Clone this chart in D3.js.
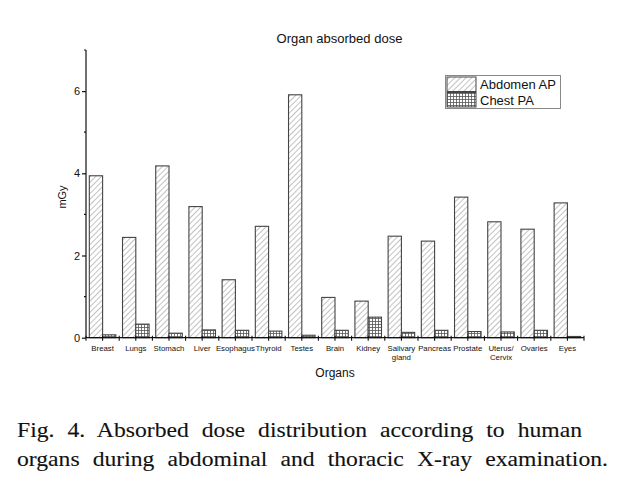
<!DOCTYPE html>
<html><head><meta charset="utf-8">
<script src="https://cdn.jsdelivr.net/npm/d3@7/dist/d3.min.js"></script>
<style>body{margin:0;background:#fff}svg{display:block}</style>
</head><body>
<svg id="c" width="618" height="479"></svg>
<script>
const organs = ["Breast","Lungs","Stomach","Liver","Esophagus","Thyroid","Testes","Brain","Kidney","Salivary\ngland","Pancreas","Prostate","Uterus/\nCervix","Ovaries","Eyes"];
const abdomenAP = [3.94,2.44,4.18,3.19,1.41,2.71,5.91,0.98,0.89,2.47,2.35,3.42,2.82,2.64,3.28];
const chestPA = [0.07,0.33,0.11,0.19,0.18,0.16,0.06,0.18,0.50,0.13,0.18,0.15,0.14,0.18,0.03];
const seriesNames = ["Abdomen AP","Chest PA"];
const yTicks = [0,2,4,6];
const yMinor = [1,3,5,7];
const captionLines = ["Fig. 4. Absorbed dose distribution according to human","organs during abdominal and thoracic X-ray examination."];

const svg = d3.select("#c");
const defs = svg.append("defs");
const p1 = defs.append("pattern").attr("id","diag").attr("patternUnits","userSpaceOnUse").attr("width",4).attr("height",4).attr("patternTransform","rotate(45)");
p1.append("rect").attr("width",4).attr("height",4).attr("fill","#fff");
p1.append("line").attr("x1",0).attr("y1",0).attr("x2",0).attr("y2",4).attr("stroke","#777").attr("stroke-width",0.9);
const p2 = defs.append("pattern").attr("id","grid").attr("patternUnits","userSpaceOnUse").attr("width",3).attr("height",3);
p2.append("rect").attr("width",3).attr("height",3).attr("fill","#fff");
p2.append("path").attr("d","M0,0.5H3M0.5,0V3").attr("stroke","#555").attr("stroke-width",0.8);
const fills = ["url(#diag)","url(#grid)"];

const x = d3.scaleBand().domain(organs).range([86,584]).paddingInner(0.2).paddingOuter(0.1);
const xs = d3.scaleBand().domain(seriesNames).range([0,x.bandwidth()]);
const y = d3.scaleLinear().domain([0,7]).range([337.7,50]);

const data = organs.map((o,i)=>({o, vals:[abdomenAP[i],chestPA[i]]}));
const g = svg.append("g");
data.forEach(d=>{
  d.vals.forEach((v,j)=>{
    g.append("rect").attr("x",x(d.o)+xs(seriesNames[j])).attr("width",xs.bandwidth())
      .attr("y",y(v)).attr("height",y(0)-y(v))
      .attr("fill",fills[j]).attr("stroke","#444").attr("stroke-width",1.1);
  });
});

const sans = "Arial, Liberation Sans, sans-serif";
// Y axis
const ya = svg.append("g").attr("transform","translate(86,0)")
  .call(d3.axisLeft(y).tickValues(yTicks).tickSize(4).tickFormat(d3.format("d")));
ya.select(".domain").attr("d",`M0,${y(7)}V${y(0)}`).attr("stroke","#111").attr("stroke-width",1.2);
ya.selectAll(".tick line").attr("stroke","#111").attr("stroke-width",1.2);
ya.selectAll(".tick text").attr("font-family",sans).attr("font-size",11).attr("fill","#111").attr("x",-6);
svg.append("g").selectAll("line").data(yMinor).join("line")
  .attr("x1",84).attr("x2",86).attr("y1",d=>y(d)).attr("y2",d=>y(d)).attr("stroke","#111").attr("stroke-width",1.2);

// X axis
const xa = svg.append("g").attr("transform",`translate(0,${y(0)})`)
  .call(d3.axisBottom(x).tickSize(3).tickSizeOuter(0));
xa.select(".domain").attr("d","M86,0H584").attr("stroke","#111").attr("stroke-width",1.2);
xa.selectAll(".tick line").attr("stroke","#111").attr("stroke-width",1.1).attr("y1",-2);
xa.selectAll(".tick text").each(function(d){
  const t = d3.select(this); t.text(null);
  d.split("\n").forEach((s,i)=>t.append("tspan").attr("x",0).attr("dy",i?"1.15em":0).text(s));
}).attr("y",13).attr("font-family",sans).attr("font-size",7.8).attr("fill","#111");
const step = x.step();
svg.append("g").selectAll("line").data(organs).join("line")
  .attr("x1",d=>x(d)+x.bandwidth()/2-step/2).attr("x2",d=>x(d)+x.bandwidth()/2-step/2)
  .attr("y1",y(0)-2).attr("y2",y(0)+3).attr("stroke","#111").attr("stroke-width",1.1);
svg.append("line").attr("x1",584).attr("x2",584).attr("y1",y(0)-2).attr("y2",y(0)+3).attr("stroke","#111").attr("stroke-width",1.1);

svg.append("text").attr("x",339.5).attr("y",43).attr("text-anchor","middle").attr("font-family",sans).attr("font-size",13).attr("fill","#111").text("Organ absorbed dose");
svg.append("text").attr("x",335).attr("y",377).attr("text-anchor","middle").attr("font-family",sans).attr("font-size",12).attr("fill","#111").text("Organs");
svg.append("text").attr("transform","translate(66,197) rotate(-90)").attr("text-anchor","middle").attr("font-family",sans).attr("font-size",11).attr("fill","#111").text("mGy");

// Legend
svg.append("rect").attr("x",445.5).attr("y",75.5).attr("width",115).attr("height",33).attr("fill","#fff").attr("stroke","#888").attr("stroke-width",1);
seriesNames.forEach((s,i)=>{
  svg.append("rect").attr("x",447).attr("y",77+i*15.5).attr("width",29).attr("height",14.5).attr("fill",fills[i]).attr("stroke","#444").attr("stroke-width",1);
  svg.append("text").attr("x",480).attr("y",89+i*15.5).attr("font-family",sans).attr("font-size",13).attr("fill","#111").text(s);
});

// Caption (justified, slightly wide serif)
const capW = [565,591];
const sx = 1.1;
captionLines.forEach((line,i)=>{
  const t = svg.append("text").attr("transform",`translate(17,${437+i*29}) scale(${sx},1)`)
    .attr("font-family","'Liberation Serif', 'Times New Roman', serif").attr("font-size",21.5)
    .attr("fill","#111").attr("stroke","#111").attr("stroke-width",0.12).text(line);
  const w = t.node().getComputedTextLength();
  const gaps = line.split(" ").length-1;
  t.attr("word-spacing",(capW[i]/sx-w)/gaps);
});
</script>
</body></html>
